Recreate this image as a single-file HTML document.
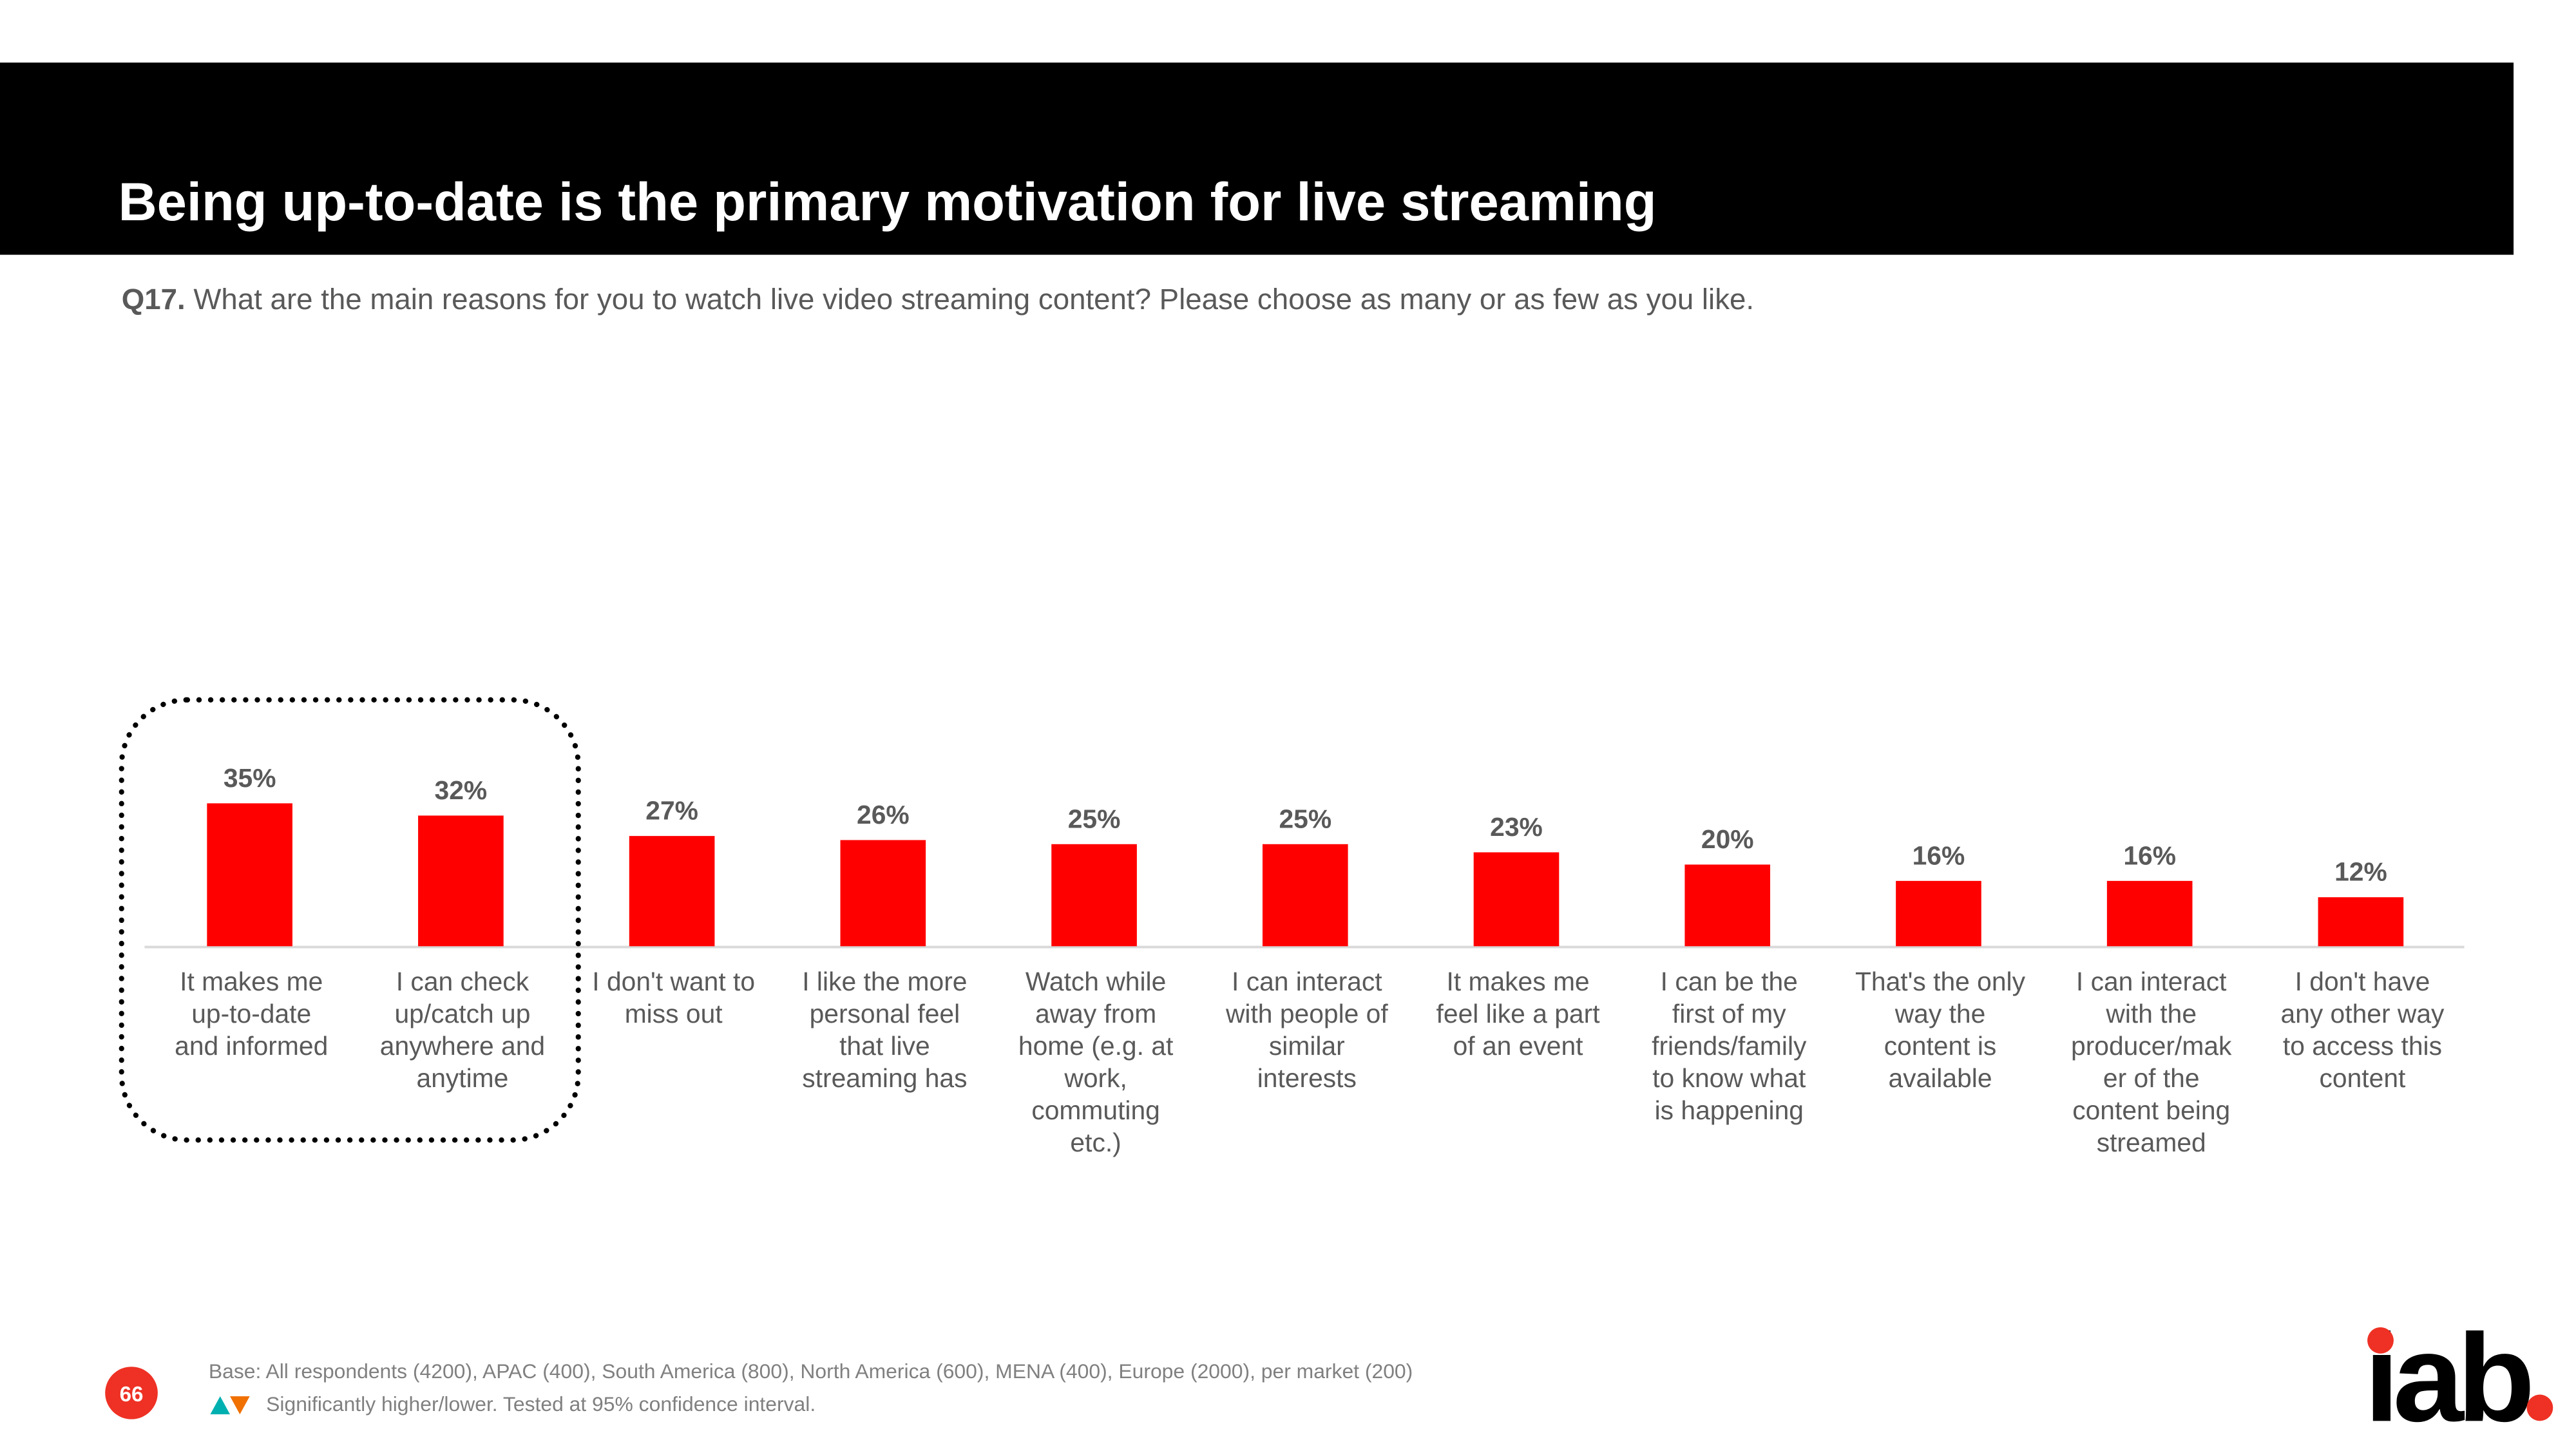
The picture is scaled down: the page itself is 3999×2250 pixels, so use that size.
<!DOCTYPE html>
<html><head><meta charset="utf-8"><style>
html,body{margin:0;padding:0;background:#fff;}
svg{display:block;font-family:"Liberation Sans",Arial,sans-serif;}
</style></head><body>
<svg id="chart" width="3999" height="2250" viewBox="0 0 1568 882" xmlns="http://www.w3.org/2000/svg">
<rect x="0" y="38" width="1530" height="117" fill="#000"/>
<text x="72" y="134" fill="#fff" font-size="32.6" font-weight="bold">Being up-to-date is the primary motivation for live streaming</text>
<text x="74" y="188" fill="#595959" font-size="17.9"><tspan font-weight="bold">Q17.</tspan> What are the main reasons for you to watch live video streaming content? Please choose as many or as few as you like.</text>
<line x1="88" y1="576.5" x2="1500" y2="576.5" stroke="#d9d9d9" stroke-width="1.5"/>
<g id="bars"></g>
<rect x="74" y="426" width="278" height="268" rx="40" ry="40" fill="none" stroke="#000" stroke-width="3.2" stroke-dasharray="0.1 7" stroke-linecap="round"/>
<circle cx="80" cy="848" r="16" fill="#ee3124"/>
<text x="80" y="853" fill="#fff" font-size="13" font-weight="bold" text-anchor="middle">66</text>
<text x="127" y="839" fill="#808080" font-size="12.5">Base: All respondents (4200), APAC (400), South America (800), North America (600), MENA (400), Europe (2000), per market (200)</text>
<polygon points="128,861 134,850 140,861" fill="#00b0b0"/>
<polygon points="140,850 152,850 146,861" fill="#f07000"/>
<text x="162" y="859" fill="#808080" font-size="12.5">Significantly higher/lower. Tested at 95% confidence interval.</text>
<g>
<text x="1439" y="865" fill="#000" font-size="76" font-weight="bold" letter-spacing="-4" textLength="100" lengthAdjust="spacingAndGlyphs">iab</text>
<circle cx="1449" cy="816" r="8" fill="#ee3124"/>
<circle cx="1546" cy="857" r="8" fill="#ee3124"/>
</g>
</svg>
<script>
const categories=[
["It makes me","up-to-date","and informed"],
["I can check","up/catch up","anywhere and","anytime"],
["I don't want to","miss out"],
["I like the more","personal feel","that live","streaming has"],
["Watch while","away from","home (e.g. at","work,","commuting","etc.)"],
["I can interact","with people of","similar","interests"],
["It makes me","feel like a part","of an event"],
["I can be the","first of my","friends/family","to know what","is happening"],
["That's the only","way the","content is","available"],
["I can interact","with the","producer/mak","er of the","content being","streamed"],
["I don't have","any other way","to access this","content"]
];
const values=[35,32,27,26,25,25,23,20,16,16,12];
const valueLabels=["35%","32%","27%","26%","25%","25%","23%","20%","16%","16%","12%"];
const NS="http://www.w3.org/2000/svg";
const g=document.getElementById('bars');
const x0=152, step=128.5, base=576, perUnit=2.486, bw=52;
function xScale(i){return x0+i*step;}
function yScale(v){return base-v*perUnit;}
values.forEach((v,i)=>{
  const cx=xScale(i), y=yScale(v);
  const r=document.createElementNS(NS,'rect');
  r.setAttribute('x',cx-bw/2);r.setAttribute('y',y);r.setAttribute('width',bw);r.setAttribute('height',base-y);r.setAttribute('fill','#ff0000');
  
  
  g.appendChild(r);
  const t=document.createElementNS(NS,'text');
  t.setAttribute('x',cx);t.setAttribute('y',y-10);t.setAttribute('text-anchor','middle');t.setAttribute('font-size','16');t.setAttribute('font-weight','bold');t.setAttribute('fill','#595959');
  t.textContent=valueLabels[i];
  
  
  g.appendChild(t);
  const c=document.createElementNS(NS,'text');
  c.setAttribute('text-anchor','middle');c.setAttribute('font-size','16');c.setAttribute('fill','#595959');
  
  
  categories[i].forEach((line,k)=>{
    const s=document.createElementNS(NS,'tspan');
    s.setAttribute('x',cx+1);s.setAttribute('y',603+k*19.6);s.textContent=line;
    c.appendChild(s);
  });
  g.appendChild(c);
});
</script>
</body></html>
